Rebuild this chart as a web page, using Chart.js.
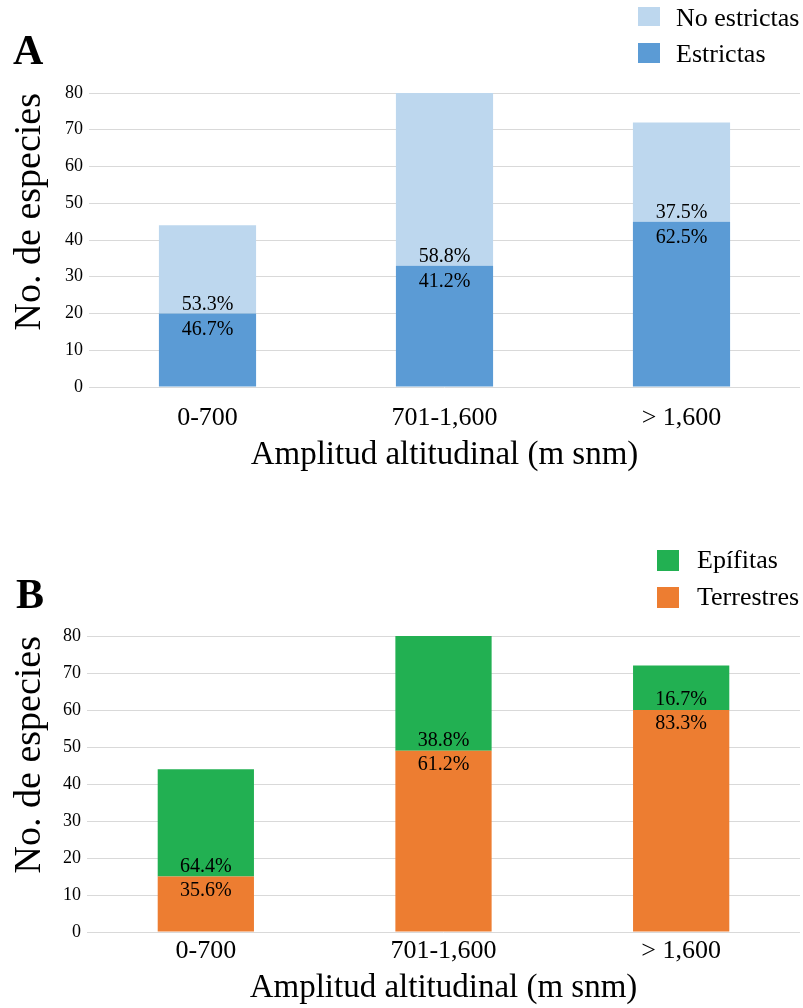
<!DOCTYPE html>
<html>
<head>
<meta charset="utf-8">
<script src="https://cdn.jsdelivr.net/npm/chart.js@4.4.1/dist/chart.umd.min.js"></script>
<style>
  body { margin: 0; background: #fff; width: 803px; height: 1008px; position: relative; overflow: hidden;
         font-family: 'Liberation Serif', 'Times New Roman', serif; color: #000; }
  canvas { position: absolute; left: 0; }
  .panel { position: absolute; font-size: 42px; font-weight: bold; line-height: 1; }
  .sw { position: absolute; width: 22px; }
  .lg { position: absolute; font-size: 26px; line-height: 1; white-space: nowrap; }
</style>
</head>
<body>
<canvas id="chartA" width="803" height="480" style="top:0px;"></canvas>
<canvas id="chartB" width="803" height="488" style="top:520px;"></canvas>

<div class="panel" style="left:13px; top:29px;">A</div>
<div class="panel" style="left:16px; top:573px;">B</div>

<div class="sw" id="swA1" style="left:638px; top:7px; height:19px;"></div>
<div class="lg" id="lgA1" style="left:676px; top:5px;"></div>
<div class="sw" id="swA2" style="left:638px; top:43px; height:20px;"></div>
<div class="lg" id="lgA2" style="left:676px; top:41px;"></div>

<div class="sw" id="swB1" style="left:657px; top:550px; height:21px;"></div>
<div class="lg" id="lgB1" style="left:697px; top:547px;"></div>
<div class="sw" id="swB2" style="left:657px; top:587px; height:21px;"></div>
<div class="lg" id="lgB2" style="left:697px; top:584px;"></div>

<script>
// categories
const categories = ['0-700', '701-1,600', '> 1,600'];

// panel A: no. of species by distribution type
const estrictas = [20, 33, 45];
const noEstrictas = [24, 47, 27];
const pctEstrictas = ['46.7%', '41.2%', '62.5%'];
const pctNoEstrictas = ['53.3%', '58.8%', '37.5%'];

// panel B: no. of species by life form
const terrestres = [15, 49, 60];
const epifitas = [29, 31, 12];
const pctTerrestres = ['35.6%', '61.2%', '83.3%'];
const pctEpifitas = ['64.4%', '38.8%', '16.7%'];

const yMin = 0;
const yMax = 80;
const yStep = 10;

const FONT = "'Liberation Serif', 'Times New Roman', serif";
Chart.defaults.font.family = FONT;
Chart.defaults.color = '#000';

const colors = {
    estrictas: '#5B9BD5',
    noEstrictas: '#BDD7EE',
    terrestres: '#ED7D31',
    epifitas: '#22B052'
};

// legends (top series listed first)
document.getElementById('swA1').style.background = colors.noEstrictas;
document.getElementById('lgA1').textContent = 'No estrictas';
document.getElementById('swA2').style.background = colors.estrictas;
document.getElementById('lgA2').textContent = 'Estrictas';
document.getElementById('swB1').style.background = colors.epifitas;
document.getElementById('lgB1').textContent = 'Epífitas';
document.getElementById('swB2').style.background = colors.terrestres;
document.getElementById('lgB2').textContent = 'Terrestres';

// draws the percentage labels on each side of the boundary between the two segments
const pctLabels = {
    id: 'pctLabels',
    afterDatasetsDraw(chart, args, opts) {
        const ctx = chart.ctx;
        ctx.save();
        ctx.font = '20px ' + FONT;
        ctx.fillStyle = '#000';
        ctx.textAlign = 'center';
        ctx.textBaseline = 'alphabetic';
        const lower = chart.getDatasetMeta(0).data;
        const upper = chart.getDatasetMeta(1).data;
        lower.forEach((bar, i) => {
            ctx.fillText(opts.labels[0][i], bar.x, bar.y + opts.below);
        });
        upper.forEach((bar, i) => {
            ctx.fillText(opts.labels[1][i], bar.x, bar.base - opts.above);
        });
        ctx.restore();
    }
};

function makeChart(id, lowerName, lowerData, lowerColor, upperName, upperData, upperColor, labels, layout) {
    return new Chart(document.getElementById(id), {
        type: 'bar',
        data: {
            labels: categories,
            datasets: [
                { label: lowerName, data: lowerData, backgroundColor: lowerColor,
                  categoryPercentage: 1, barPercentage: layout.barPct },
                { label: upperName, data: upperData, backgroundColor: upperColor,
                  categoryPercentage: 1, barPercentage: layout.barPct }
            ]
        },
        options: {
            responsive: false,
            animation: false,
            layout: { padding: { top: layout.top, right: 3, left: 0, bottom: 0 } },
            plugins: {
                legend: { display: false },
                tooltip: { enabled: false },
                pctLabels: { labels: labels, below: layout.below, above: layout.above }
            },
            scales: {
                x: {
                    stacked: true,
                    grid: { display: false, drawTicks: false },
                    border: { display: false },
                    ticks: { color: '#000', font: { family: FONT, size: 26 }, padding: layout.xTickPad },
                    title: {
                        display: true,
                        text: 'Amplitud altitudinal (m snm)',
                        color: '#000',
                        font: { family: FONT, size: 33 },
                        padding: { top: 0, bottom: layout.xTitlePad }
                    },
                    afterFit: (s) => { s.height = layout.xHeight; }
                },
                y: {
                    stacked: true,
                    min: yMin,
                    max: yMax,
                    grid: { color: '#d9d9d9', lineWidth: 1, drawTicks: false },
                    border: { display: false },
                    ticks: { stepSize: yStep, color: '#000', font: { family: FONT, size: 18 }, padding: 6 },
                    title: {
                        display: true,
                        text: 'No. de especies',
                        align: 'end',
                        color: '#000',
                        font: { family: FONT, size: 38 },
                        padding: { top: 7, bottom: 0 }
                    },
                    afterFit: (s) => { s.width = layout.yWidth; }
                }
            }
        },
        plugins: [pctLabels]
    });
}

makeChart('chartA', 'Estrictas', estrictas, colors.estrictas,
    'No estrictas', noEstrictas, colors.noEstrictas,
    [pctEstrictas, pctNoEstrictas],
    { top: 93, xHeight: 93, xTickPad: 16, xTitlePad: 5, yWidth: 89,
      barPct: 0.41, below: 21, above: 4 });

makeChart('chartB', 'Terrestres', terrestres, colors.terrestres,
    'Epífitas', epifitas, colors.epifitas,
    [pctTerrestres, pctEpifitas],
    { top: 116, xHeight: 76, xTickPad: 4, xTitlePad: 0, yWidth: 87,
      barPct: 0.405, below: 19, above: 5 });
</script>
</body>
</html>
